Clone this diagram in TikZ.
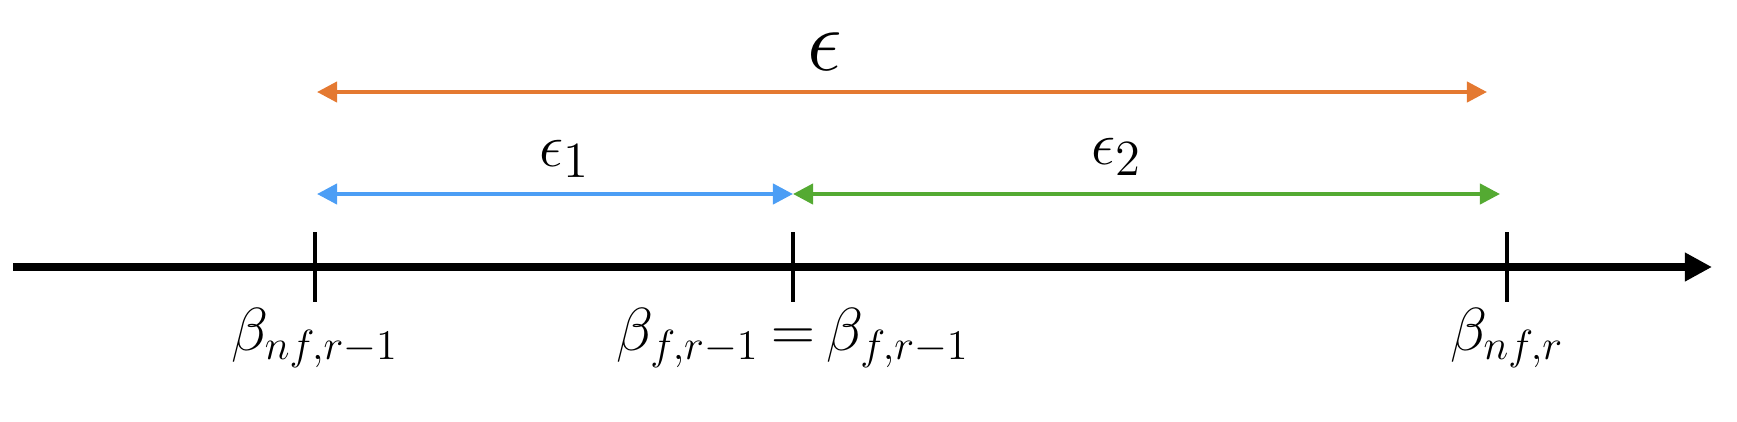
\documentclass[tikz,border=0pt]{standalone}
\usepackage{amsmath,amssymb}
\usetikzlibrary{arrows.meta,positioning}
\definecolor{epsorange}{RGB}{228,121,49}
\definecolor{epsblue}{RGB}{76,158,245}
\definecolor{epsgreen}{RGB}{84,170,50}
\tikzset{
	span/.style = {line width = 1.15pt, {Triangle[length = 5.7pt, width = 5.7pt]}-{Triangle[length = 5.7pt, width = 5.7pt]}},
	tick/.style = {line width = 1.4pt},
	ticklabel/.style = {anchor = base, inner sep = 0, font = \fontsize{18}{20}\selectfont},
	spanlabel/.style = {anchor = base, inner sep = 0, font = \fontsize{19}{21}\selectfont}
}
\begin{document}
\begin{tikzpicture}[x = 0.01cm, y = -0.01cm]
	\useasboundingbox (0,0) rectangle (1737,421);
	
	\coordinate (axisstart) at (13,267);
	\coordinate (axisend) at (1712,267);
	\draw[line width = 2pt, -{Triangle[length = 7.7pt, width = 7.7pt]}] (axisstart) -- (axisend); % time axis
	
	\coordinate (nfold) at (315,267);
	\coordinate (fold) at (793,267);
	\coordinate (nfnew) at (1507,267);
	\draw[tick] (nfold) ++(0,-35) -- ++(0,70);
	\draw[tick] (fold) ++(0,-35) -- ++(0,70);
	\draw[tick] (nfnew) ++(0,-35) -- ++(0,70);
	
	\node[ticklabel] (lnfold) at (315,350) {$\beta_{nf,r-1}$};
	\node[ticklabel] (lfold) at (793,350) {$\beta_{f,r-1}\mkern3.5mu{=}\mkern3.5mu\beta_{f,r-1}$};
	\node[ticklabel] (lnfnew) at (1507,350) {$\beta_{nf,r}$};
	
	\coordinate (epsleft) at (317,92);
	\coordinate (epsright) at (1487,92);
	\coordinate (oneleft) at (317,194);
	\coordinate (onetwo) at (793,194);
	\coordinate (tworight) at (1500,194);
	\draw[span, epsorange] (epsleft) -- (epsright); % whole gap
	\draw[span, epsblue] (oneleft) -- (onetwo);
	\draw[span, epsgreen] (onetwo) -- (tworight);
	
	\node[spanlabel, font = \fontsize{23}{25}\selectfont] (leps) at (825,70) {$\epsilon$};
	\node[spanlabel] (lepsone) at (565,166) {$\epsilon_1$};
	\node[spanlabel] (lepstwo) at (1117,164) {$\epsilon_2$};
\end{tikzpicture}
\end{document}
